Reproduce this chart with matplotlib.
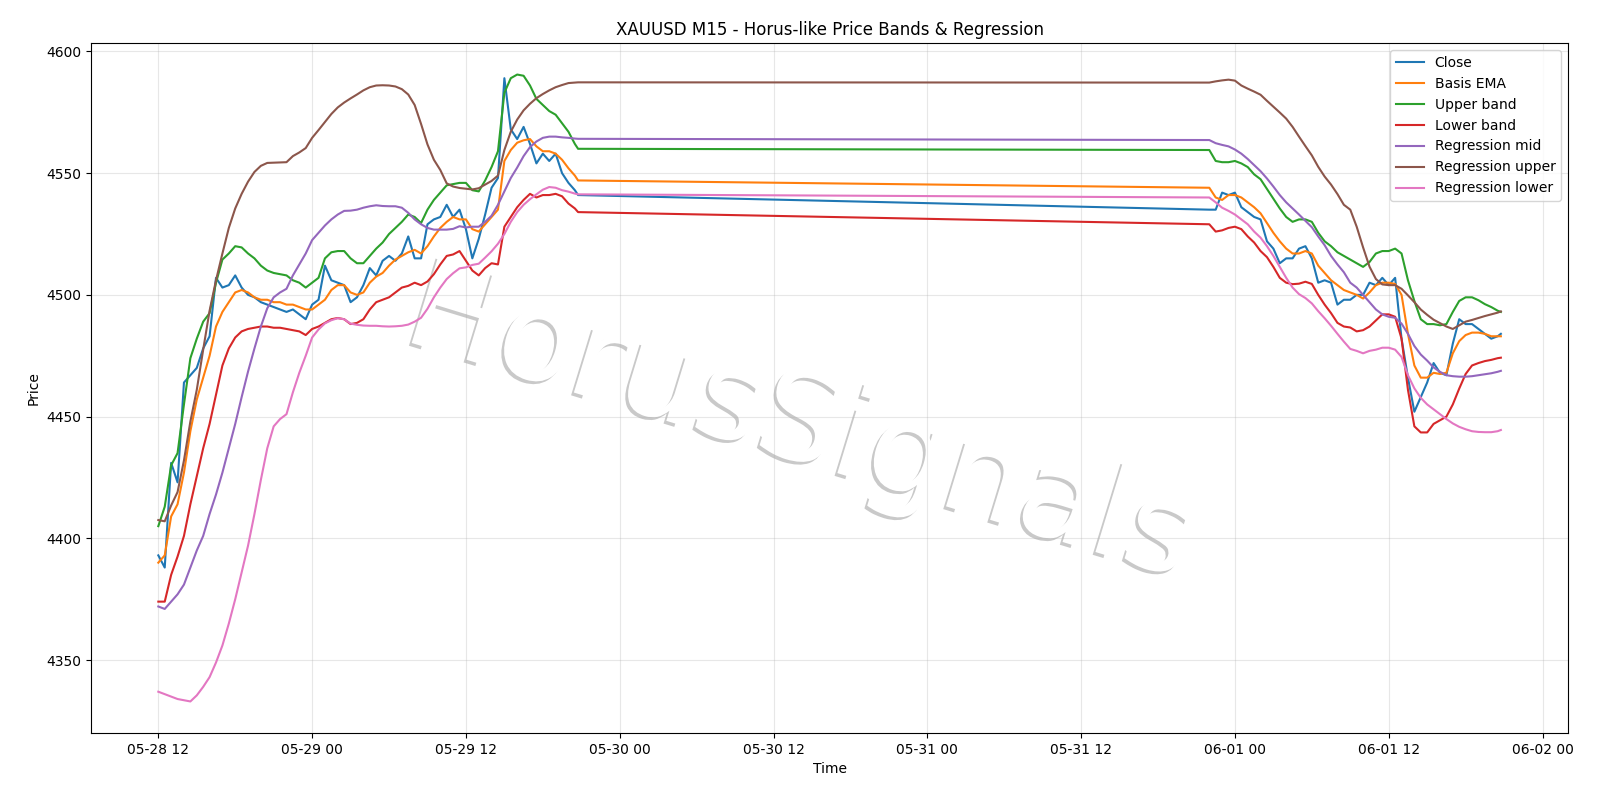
import matplotlib
matplotlib.use("Agg")
import matplotlib.pyplot as plt
import matplotlib.patheffects as pe
import pandas as pd

times_a = pd.date_range("2026-05-28 12:00", "2026-05-29 20:30", freq="30min").append(
    pd.DatetimeIndex(["2026-05-29 20:45"]))
times_b = pd.date_range("2026-05-31 22:00", "2026-06-01 20:30", freq="30min").append(
    pd.DatetimeIndex(["2026-06-01 20:45"]))
times = times_a.append(times_b)

close = [
    4393, 4388, 4431, 4423, 4464, 4467, 4470, 4478, 4483, 4507,
    4503, 4504, 4508, 4503, 4500, 4499, 4497, 4496, 4495, 4494,
    4493, 4494, 4492, 4490, 4496, 4498, 4512, 4506, 4505, 4504,
    4497, 4499, 4504, 4511, 4508, 4514, 4516, 4514, 4517, 4524,
    4515, 4515, 4529, 4531, 4532, 4537, 4532, 4535, 4527, 4515,
    4523, 4533, 4544, 4548, 4589, 4568, 4564, 4569, 4562, 4554,
    4558, 4555, 4558, 4550, 4546, 4543, 4541,
    # session 2
    4535, 4535, 4542, 4541, 4542, 4536, 4534, 4532, 4531, 4522,
    4519, 4513, 4515, 4515, 4519, 4520, 4515, 4505, 4506, 4505,
    4496, 4498, 4498, 4500, 4500, 4505, 4504, 4507, 4504, 4507,
    4482, 4466, 4452, 4458, 4464, 4472, 4468, 4467, 4480, 4490,
    4488, 4488, 4486, 4484, 4482, 4483, 4484,
]

basis_ema = [
    4390, 4393, 4409, 4414, 4427, 4444, 4457, 4466, 4475, 4487,
    4493, 4497, 4501, 4502, 4501, 4499, 4498, 4498, 4497, 4497,
    4496, 4496, 4495, 4494, 4494, 4496, 4498, 4502, 4504, 4504,
    4501, 4500, 4501, 4505, 4507.5, 4509, 4512, 4514.5, 4516, 4517.5,
    4518.5, 4517, 4520, 4524, 4527.5, 4530, 4532, 4531, 4531, 4527,
    4526, 4529, 4532, 4535, 4555, 4559.5, 4562.5, 4563.5, 4564, 4561,
    4559, 4559, 4558, 4555.5, 4552, 4549, 4547,
    4544, 4540, 4539, 4541, 4541, 4540, 4538, 4536, 4533.5, 4529.5,
    4525.5, 4522, 4519, 4517, 4517, 4518, 4517, 4512, 4509, 4506,
    4504, 4502, 4501, 4500, 4498.5, 4501, 4504, 4505, 4505, 4504.5,
    4500, 4484, 4471, 4466, 4466, 4468, 4467.5, 4468, 4476, 4481,
    4483.5, 4484.5, 4484.5, 4484, 4483, 4483, 4483,
]

upper_band = [
    4405, 4413, 4430, 4435, 4455, 4474, 4482, 4489, 4492.5, 4505,
    4514.5, 4517, 4520, 4519.5, 4517, 4515, 4512, 4510, 4509, 4508.5,
    4508, 4506, 4505, 4503, 4505, 4507, 4515, 4517.5, 4518, 4518,
    4515, 4513, 4513, 4516, 4519, 4521.5, 4525, 4527.5, 4530, 4533,
    4532, 4529.5, 4535, 4539, 4542, 4545, 4545.5, 4546, 4546, 4543,
    4542.5, 4547, 4552.5, 4559, 4583, 4589, 4590.5, 4590, 4586, 4580.5,
    4578, 4575.5, 4574, 4570.5, 4567, 4562, 4560,
    4559.5, 4555, 4554.5, 4554.5, 4555, 4554, 4552.5, 4549.5, 4547.5, 4543.5,
    4539.5, 4535.5, 4532, 4530, 4531, 4531, 4530, 4525.5, 4522, 4520,
    4517.5, 4516, 4514.5, 4513, 4511.5, 4513.5, 4517, 4518, 4518, 4519,
    4517, 4506, 4497.5, 4490, 4488, 4488, 4487.5, 4488, 4493, 4497.5,
    4499, 4499, 4497.8, 4496.2, 4495, 4493.5, 4493,
]

lower_band = [
    4374, 4374, 4385, 4392.5, 4401, 4414, 4425.5, 4437, 4447, 4459,
    4471, 4478, 4482.5, 4485, 4486, 4486.5, 4487, 4487, 4486.5, 4486.5,
    4486, 4485.5, 4485, 4483.5, 4486, 4487, 4488.5, 4490, 4490.5, 4490,
    4488, 4488.5, 4490, 4494, 4497, 4498, 4499, 4501, 4503, 4503.7,
    4505, 4504, 4505.5, 4508.5, 4512.5, 4516, 4516.6, 4518, 4514, 4510,
    4508, 4511, 4513, 4512.5, 4528, 4532, 4536, 4539, 4541.5, 4540,
    4541, 4541, 4541.5, 4540.5, 4537.5, 4535.5, 4534,
    4529, 4526, 4526.5, 4527.5, 4528, 4527, 4524, 4521.5, 4518, 4515.5,
    4511.5, 4507, 4505, 4504.4, 4504.6, 4505.4, 4504.5, 4500, 4496, 4492.5,
    4488.5, 4487, 4486.6, 4485, 4485.5, 4487, 4489.5, 4492, 4492, 4491,
    4482, 4461, 4446, 4443.5, 4443.5, 4447, 4448.5, 4450, 4455, 4461.5,
    4467.5, 4471, 4472, 4472.8, 4473.3, 4474, 4474.2,
]

reg_mid = [
    4372, 4371, 4374, 4377, 4381, 4388, 4395, 4401, 4410, 4418,
    4427, 4437, 4447, 4458, 4468.5, 4478, 4487, 4494.5, 4499, 4501,
    4502.5, 4508, 4512.5, 4517, 4522.5, 4525.5, 4528.5, 4531, 4533, 4534.5,
    4534.6, 4535, 4535.8, 4536.4, 4536.8, 4536.5, 4536.4, 4536.4, 4535.8, 4533.7,
    4531, 4529, 4527.5, 4526.8, 4526.8, 4526.8, 4527.1, 4528.2, 4527.7, 4528,
    4528, 4530, 4532.5, 4537, 4542.5, 4548, 4552.3, 4557, 4560.7, 4563,
    4564.5, 4565, 4565, 4564.7, 4564.5, 4564.2, 4564.1,
    4563.6, 4562.3, 4561.6, 4561, 4559.7, 4558, 4555.8, 4553.3, 4550.8, 4547.8,
    4544.5, 4541, 4538, 4535.5, 4533, 4530.4, 4527.8, 4524, 4520.4, 4516,
    4512.5, 4509.3, 4505, 4503, 4500, 4497, 4494, 4492, 4491, 4490.6,
    4488.2, 4484, 4479, 4475.5, 4473, 4470.2, 4468.4, 4467, 4466.6, 4466.4,
    4466.4, 4466.6, 4467, 4467.4, 4467.8, 4468.4, 4468.8,
]

reg_upper = [
    4407.5, 4407, 4413.5, 4419, 4432, 4448, 4461, 4477.5, 4493.5, 4506,
    4517, 4527.5, 4535.5, 4541.5, 4546.5, 4550.5, 4553, 4554.2, 4554.3, 4554.4,
    4554.5, 4557, 4558.5, 4560.3, 4564.5, 4567.7, 4571, 4574.3, 4577, 4579,
    4580.7, 4582.3, 4584, 4585.3, 4586, 4586.1, 4586, 4585.6, 4584.5, 4582.3,
    4578, 4570.2, 4561.8, 4555.5, 4551.3, 4545.8, 4544.5, 4543.9, 4543.6, 4543.3,
    4543.8, 4545.3, 4546.8, 4549, 4559.5, 4567, 4572, 4575.8, 4578.5, 4580.8,
    4582.5, 4584, 4585.3, 4586.2, 4587, 4587.2, 4587.3,
    4587.2, 4587.7, 4588.1, 4588.4, 4588, 4586, 4584.7, 4583.5, 4582.2, 4579.7,
    4577.3, 4574.9, 4572.4, 4569, 4565, 4561.1, 4557.3, 4552.6, 4548.6, 4545.3,
    4541.4, 4537, 4535, 4528, 4519.5, 4511.6, 4506.5, 4504.3, 4504, 4504,
    4502.5, 4499.8, 4497, 4494, 4491.8, 4489.8, 4488.4, 4487, 4486, 4487.5,
    4489, 4489.7, 4490.5, 4491.3, 4492, 4492.7, 4493.2,
]

reg_lower = [
    4337, 4336, 4335, 4334, 4333.5, 4333, 4335.5, 4339, 4343, 4349,
    4356, 4365, 4375, 4386, 4397, 4410, 4424, 4437, 4446, 4449,
    4451, 4460, 4468, 4475, 4482.5, 4485.8, 4488.3, 4489.6, 4490.4, 4490,
    4488.2, 4487.7, 4487.4, 4487.3, 4487.3, 4487.1, 4487, 4487.1, 4487.3, 4487.8,
    4489, 4490.6, 4494.3, 4499, 4503, 4506.5, 4508.9, 4510.9, 4511.3, 4512.3,
    4512.8, 4515.3, 4517.9, 4521, 4525, 4530, 4534, 4537, 4539.3, 4541.3,
    4543.2, 4544.3, 4544, 4543, 4542.4, 4541.6, 4541.3,
    4540, 4538, 4535.8, 4534.5, 4533, 4531, 4529, 4526, 4523.5, 4520,
    4516, 4511.5, 4507, 4503, 4500.3, 4498.7, 4496.5, 4493.3, 4490.4, 4487.3,
    4484, 4480.8, 4477.8, 4477, 4476, 4477, 4477.5, 4478.3, 4478.3, 4477.5,
    4474.5, 4467, 4461.6, 4457.7, 4455, 4453, 4451, 4449, 4447.2, 4445.8,
    4444.8, 4444, 4443.7, 4443.6, 4443.6, 4444, 4444.5,
]

fig, ax = plt.subplots(figsize=(16, 8), dpi=100)

ax.plot(times, close, label="Close")
ax.plot(times, basis_ema, label="Basis EMA")
ax.plot(times, upper_band, label="Upper band")
ax.plot(times, lower_band, label="Lower band")
ax.plot(times, reg_mid, label="Regression mid")
ax.plot(times, reg_upper, label="Regression upper")
ax.plot(times, reg_lower, label="Regression lower")

ax.set_title("XAUUSD M15 - Horus-like Price Bands & Regression")
ax.set_xlabel("Time")
ax.set_ylabel("Price")
ax.grid(True, alpha=0.3)
ax.legend(loc="upper right")

# watermark, white letters with a soft shadow, under the lines
ax.text(0.5, 0.468, "HorusSignals", transform=fig.transFigure, fontsize=90,
        color="white", rotation=-17, ha="center", va="center", zorder=1,
        path_effects=[pe.withSimplePatchShadow(offset=(-2, -2), alpha=0.3)])

fig.subplots_adjust(left=0.057, right=0.980, bottom=0.084, top=0.946)
fig.savefig("out.png", dpi=100)
